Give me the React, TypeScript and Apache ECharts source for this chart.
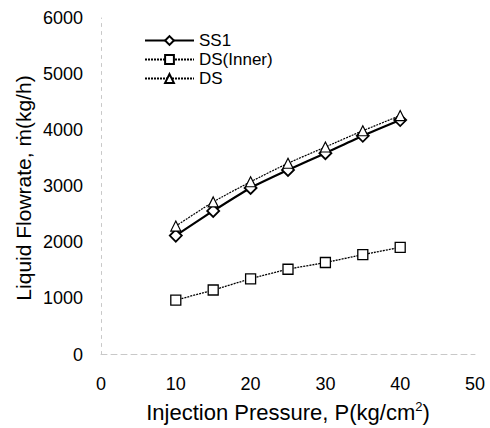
import React, { useEffect, useRef } from "react";
import * as echarts from "echarts";

const pressure = [10, 15, 20, 25, 30, 35, 40];
const ss1 = [2120, 2560, 2970, 3290, 3590, 3900, 4180];
const dsInner = [970, 1150, 1350, 1520, 1640, 1780, 1910];
const ds = [2290, 2720, 3080, 3410, 3700, 3990, 4260];
const seriesNames = ["SS1", "DS(Inner)", "DS"];

const FONT = "'Liberation Sans', Arial, sans-serif";

export default function App() {
  const ref = useRef<HTMLDivElement>(null);
  useEffect(() => {
    if (!ref.current) return;
    const chart = echarts.init(ref.current, null, { renderer: "svg" });
    const pair = (ys: number[]) => pressure.map((x, i) => [x, ys[i]]);
    chart.setOption({
      animation: false,
      backgroundColor: "#ffffff",
      textStyle: { fontFamily: FONT, color: "#000" },
      grid: { left: 101, right: 15, top: 18, bottom: 73 },
      legend: {
        orient: "vertical",
        left: 139,
        top: 27,
        itemWidth: 49,
        itemHeight: 11,
        itemGap: 2,
        data: seriesNames,
        textStyle: { fontSize: 17, color: "#000", fontFamily: FONT },
      },
      xAxis: {
        type: "value",
        min: 0,
        max: 50,
        interval: 10,
        name: "Injection Pressure, P(kg/cm{sup|2})",
        nameLocation: "middle",
        nameGap: 45,
        nameTextStyle: {
          fontSize: 22,
          color: "#000",
          fontFamily: FONT,
          rich: {
            sup: { fontSize: 13, verticalAlign: "top", padding: [0, 0, 12, 0], color: "#000", fontFamily: FONT },
          },
        },
        axisLine: { show: true, lineStyle: { color: "#c8c8c8", type: [6, 4], width: 1 } },
        axisTick: { show: false },
        splitLine: { show: false },
        axisLabel: { fontSize: 18, color: "#000", margin: 20, fontFamily: FONT },
      },
      yAxis: {
        type: "value",
        min: 0,
        max: 6000,
        interval: 1000,
        axisLine: { show: true, lineStyle: { color: "#c8c8c8", type: [3, 5], width: 1 } },
        axisTick: { show: false },
        splitLine: { show: false },
        axisLabel: {
          fontSize: 18,
          color: "#000",
          margin: 18,
          fontFamily: FONT,
          formatter: (v: number) => String(v),
        },
      },
      graphic: [
        {
          type: "text",
          x: 23,
          y: 188,
          rotation: Math.PI / 2,
          style: {
            text: "Liquid Flowrate, ṁ(kg/h)",
            fontSize: 21,
            fontFamily: FONT,
            fill: "#000",
            align: "center",
            verticalAlign: "middle",
          },
        },
      ],
      series: [
        {
          name: "SS1",
          type: "line",
          data: pair(ss1),
          smooth: 0.2,
          symbol: "diamond",
          symbolSize: 12,
          itemStyle: { color: "#fff", borderColor: "#000", borderWidth: 1.8 },
          lineStyle: { color: "#000", width: 2.2 },
        },
        {
          name: "DS(Inner)",
          type: "line",
          data: pair(dsInner),
          smooth: 0.2,
          symbol: "rect",
          symbolSize: 10,
          itemStyle: { color: "#fff", borderColor: "#000", borderWidth: 1.3 },
          lineStyle: { color: "#000", width: 1.3, type: [2, 1] },
        },
        {
          name: "DS",
          type: "line",
          data: pair(ds),
          smooth: 0.2,
          symbol: "triangle",
          symbolSize: 10,
          itemStyle: { color: "#fff", borderColor: "#000", borderWidth: 1.2 },
          lineStyle: { color: "#000", width: 1.2, type: [2, 1] },
        },
      ],
    });
    return () => chart.dispose();
  }, []);
  return (
    <div
      ref={ref}
      style={{ position: "fixed", left: 0, top: 0, width: 490, height: 428 }}
    />
  );
}
